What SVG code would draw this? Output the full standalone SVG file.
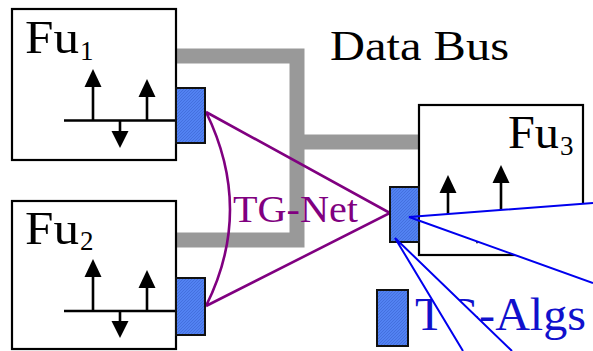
<svg xmlns="http://www.w3.org/2000/svg" width="593" height="351" viewBox="0 0 593 351">
  <style>
    .box { fill: #fff; stroke: #000; stroke-width: 2.2; }
    .sig { stroke: #000; stroke-width: 2.6; fill: none; }
    .head { fill: #000; }
    .bus { fill: none; stroke: #999; stroke-width: 15; }
    .tg { fill: url(#hatch); stroke: #111; stroke-width: 2; }
    .net { fill: none; stroke: #800080; stroke-width: 2.6; }
    .cone { fill: #fff; stroke: none; }
    .ray { stroke: #0000ee; stroke-width: 2; fill: none; }
    text { font-family: 'Liberation Serif', 'Times New Roman', Times, serif; }
    .lbl { fill: #000; }
    .netlbl { fill: #800080; }
    .alglbl { fill: #1010cc; }
  </style>
  <defs>
    <pattern id="hatch" width="3" height="3" patternUnits="userSpaceOnUse">
      <rect width="3" height="3" fill="#5282f2"/>
      <path d="M-1,1 L1,-1 M0,3 L3,0 M2,4 L4,2" stroke="#3d68d6" stroke-width="0.7"/>
    </pattern>
    <path id="up" d="M-8.5,18 L0,0 L8.5,18 Z"/>
    <path id="down" d="M-8.5,-17 L0,0 L8.5,-17 Z"/>
  </defs>

  <!-- data bus -->
  <g id="connectors">
    <path class="bus" d="M176,56 H297 V240 H176 M297,142 H419"/>
  </g>

  <text class="lbl" x="330" y="60" font-size="43" textLength="179" lengthAdjust="spacingAndGlyphs">Data Bus</text>

  <!-- functional unit 1 -->
  <g id="fu1">
    <rect class="box" x="12" y="9" width="164" height="151"/>
    <text class="lbl" x="25" y="53" font-size="46" textLength="54" lengthAdjust="spacingAndGlyphs">Fu</text>
    <text class="lbl" x="80" y="60" font-size="27">1</text>
    <path class="sig" d="M64,120.5 H176 M93,84 V120.5 M147,94 V120.5 M120,120.5 V132"/>
    <use href="#up" class="head" x="93" y="69"/>
    <use href="#up" class="head" x="147" y="79"/>
    <use href="#down" class="head" x="120" y="148"/>
  </g>

  <!-- functional unit 2 -->
  <g id="fu2">
    <rect class="box" x="12" y="201" width="164" height="148"/>
    <text class="lbl" x="25" y="244" font-size="46" textLength="54" lengthAdjust="spacingAndGlyphs">Fu</text>
    <text class="lbl" x="80" y="250" font-size="27">2</text>
    <path class="sig" d="M64,311 H176 M93,274 V311 M147,285 V311 M120,311 V322"/>
    <use href="#up" class="head" x="93" y="259"/>
    <use href="#up" class="head" x="147" y="270"/>
    <use href="#down" class="head" x="120" y="338"/>
  </g>

  <!-- functional unit 3 -->
  <g id="fu3">
    <rect class="box" x="419" y="105" width="164" height="150"/>
    <text class="lbl" x="508" y="148" font-size="46" textLength="51" lengthAdjust="spacingAndGlyphs">Fu</text>
    <text class="lbl" x="560" y="155" font-size="27">3</text>
    <path class="sig" d="M419,217 H540 M448,190 V217 M501,180 V217 M477,217 V228"/>
    <use href="#up" class="head" x="448" y="175"/>
    <use href="#up" class="head" x="501" y="165"/>
    <use href="#down" class="head" x="477" y="244"/>
  </g>

  <!-- TG network -->
  <g id="tg-net">
    <path class="net" d="M206,112 L390,213 L206,306 M206,112 Q254,210 206,306"/>
    <text class="netlbl" x="233" y="222" font-size="38" textLength="125" lengthAdjust="spacingAndGlyphs">TG-Net</text>
  </g>

  <g id="tg1"><rect class="tg" x="176" y="88" width="29" height="55"/></g>
  <g id="tg2"><rect class="tg" x="176" y="278" width="29" height="57"/></g>

  <!-- legend -->
  <g id="legend">
    <rect class="tg" x="377" y="290" width="31" height="56"/>
    <text class="alglbl" x="415" y="330" font-size="46" textLength="171" lengthAdjust="spacingAndGlyphs">TG-Algs</text>
  </g>

  <!-- zoom-out cones -->
  <g id="cones">
    <polygon class="cone" points="409,217 593,203 593,283"/>
    <polygon class="cone" points="395,238 463,351 512,351"/>
  </g>

  <g id="tg3"><rect class="tg" x="390" y="187" width="29" height="55"/></g>

  <g id="rays">
    <path class="ray" d="M593,203 L409,217 L593,283 M463,351 L395,238 L512,351"/>
  </g>
</svg>
